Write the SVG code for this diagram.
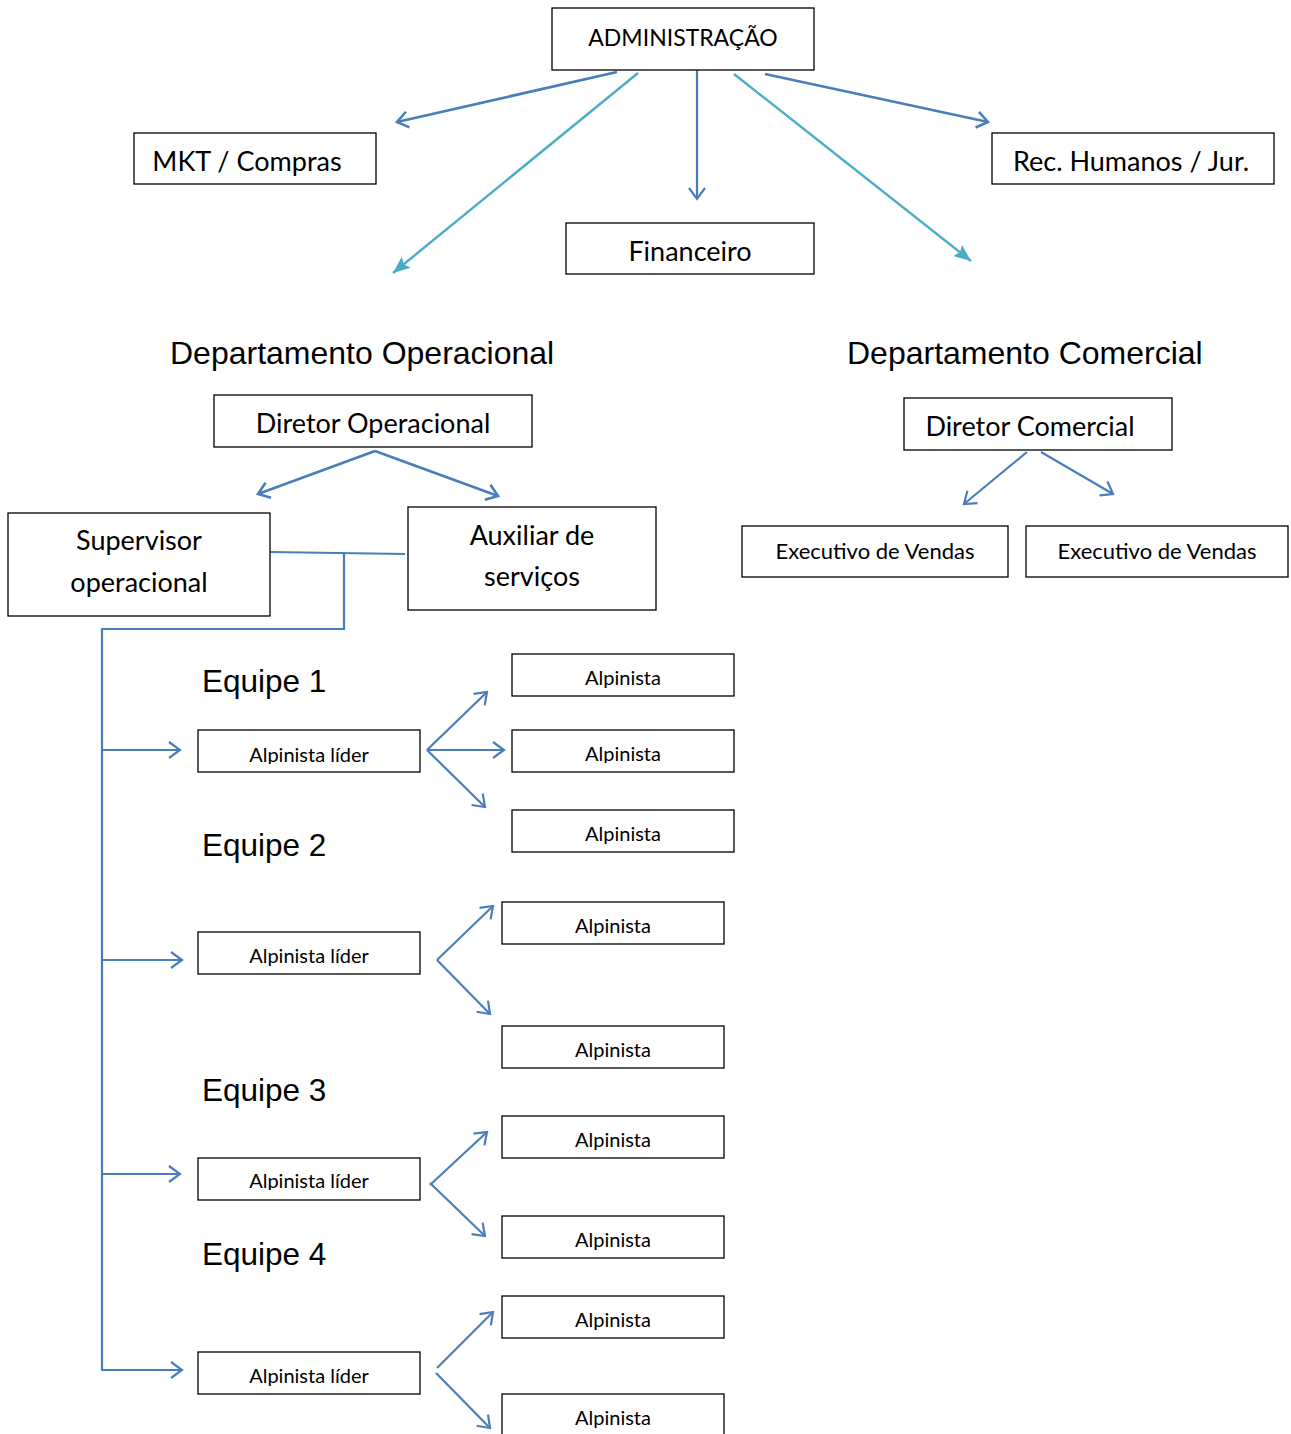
<svg xmlns="http://www.w3.org/2000/svg" width="1291" height="1434" viewBox="0 0 1291 1434">
<style>
.box{fill:#fff;stroke:#000;stroke-width:1.3}
.t{font-family:Lato,"Open Sans","Noto Sans",sans-serif;fill:#000;text-anchor:middle}
.m{font-size:27px}
.s{font-size:20px}
.h{font-family:"Liberation Sans",Arial,sans-serif;fill:#000;font-size:32px}
.e{font-family:"Liberation Sans",Arial,sans-serif;fill:#000;font-size:31.5px}
.b{stroke:#4A7EBB;stroke-width:2.2;fill:none}
.bt{stroke:#4A7EBB;stroke-width:2.8;fill:none}
.tl{stroke:#4BACC6;stroke-width:2.4;fill:none}
</style>
<defs>
<marker id="oa" markerUnits="userSpaceOnUse" markerWidth="30" markerHeight="30" refX="15" refY="15" orient="auto">
<polyline points="4,7 15,15 4,23" fill="none" stroke="#4A7EBB" stroke-width="2.2"/>
</marker>
<marker id="oat" markerUnits="userSpaceOnUse" markerWidth="30" markerHeight="30" refX="15" refY="15" orient="auto">
<polyline points="4,7 15,15 4,23" fill="none" stroke="#4A7EBB" stroke-width="2.6"/>
</marker>
<marker id="fa" markerUnits="userSpaceOnUse" markerWidth="34" markerHeight="34" refX="17" refY="17" orient="auto">
<polygon points="0,10 17,17 0,24 3,17" fill="#4BACC6"/>
</marker>
<clipPath id="c1"><rect x="198" y="730" width="222" height="34"/></clipPath>
<clipPath id="c3"><rect x="198" y="1158" width="222" height="32"/></clipPath>
<clipPath id="c1b"><rect x="512" y="730" width="222" height="33"/></clipPath>
</defs>
<rect width="1291" height="1434" fill="#fff"/>
<g id="connectors">
<line class="bt" x1="617" y1="72" x2="397" y2="122" marker-end="url(#oat)"/>
<line class="b" x1="697" y1="70" x2="697" y2="199" marker-end="url(#oa)"/>
<line class="bt" x1="765" y1="74" x2="988" y2="122" marker-end="url(#oat)"/>
<line class="tl" x1="638" y1="73" x2="393" y2="273" marker-end="url(#fa)"/>
<line class="tl" x1="734" y1="74" x2="971" y2="261" marker-end="url(#fa)"/>
<line class="bt" x1="375" y1="451" x2="258" y2="494" marker-end="url(#oat)"/>
<line class="bt" x1="375" y1="451" x2="498" y2="496" marker-end="url(#oat)"/>
<line class="b" x1="1027" y1="452" x2="964" y2="504" marker-end="url(#oa)"/>
<line class="b" x1="1041" y1="452" x2="1113" y2="494" marker-end="url(#oa)"/>
<polyline class="b" points="270,552 405,554"/>
<polyline class="b" points="344,552 344,629 102,629 102,1371"/>
<line class="b" x1="102" y1="750" x2="180" y2="750" marker-end="url(#oa)"/>
<line class="b" x1="102" y1="960" x2="182" y2="960" marker-end="url(#oa)"/>
<line class="b" x1="102" y1="1174" x2="180" y2="1174" marker-end="url(#oa)"/>
<line class="b" x1="102" y1="1370" x2="182" y2="1370" marker-end="url(#oa)"/>
<line class="b" x1="427" y1="750" x2="487" y2="692" marker-end="url(#oa)"/>
<line class="b" x1="427" y1="750" x2="504" y2="750" marker-end="url(#oa)"/>
<line class="b" x1="427" y1="750" x2="485" y2="807" marker-end="url(#oa)"/>
<line class="b" x1="437" y1="960" x2="493" y2="906" marker-end="url(#oa)"/>
<line class="b" x1="437" y1="960" x2="490" y2="1014" marker-end="url(#oa)"/>
<line class="b" x1="430" y1="1185" x2="487" y2="1132" marker-end="url(#oa)"/>
<line class="b" x1="430" y1="1183" x2="485" y2="1236" marker-end="url(#oa)"/>
<line class="b" x1="437" y1="1368" x2="493" y2="1312" marker-end="url(#oa)"/>
<line class="b" x1="436" y1="1373" x2="490" y2="1428" marker-end="url(#oa)"/>
</g>
<g id="admin"><rect class="box" x="552" y="8" width="262" height="62"/><text class="t" x="683" y="46" font-size="23">ADMINISTRAÇÃO</text></g>
<g id="mkt"><rect class="box" x="134" y="133" width="242" height="51"/><text class="t m" x="247" y="171">MKT / Compras</text></g>
<g id="rh"><rect class="box" x="992" y="133" width="282" height="51"/><text class="t m" x="1131" y="171">Rec. Humanos / Jur.</text></g>
<g id="fin"><rect class="box" x="566" y="223" width="248" height="51"/><text class="t m" x="690" y="261">Financeiro</text></g>
<g id="dep-op"><text class="h" x="170" y="364">Departamento Operacional</text></g>
<g id="dep-com"><text class="h" x="847" y="364">Departamento Comercial</text></g>
<g id="dir-op"><rect class="box" x="214" y="395" width="318" height="52"/><text class="t m" x="373" y="433">Diretor Operacional</text></g>
<g id="dir-com"><rect class="box" x="904" y="398" width="268" height="52"/><text class="t m" x="1030" y="436">Diretor Comercial</text></g>
<g id="sup"><rect class="box" x="8" y="513" width="262" height="103"/><text class="t m" x="139" y="550">Supervisor</text><text class="t m" x="139" y="592">operacional</text></g>
<g id="aux"><rect class="box" x="408" y="507" width="248" height="103"/><text class="t m" x="532" y="545">Auxiliar de</text><text class="t m" x="532" y="586">serviços</text></g>
<g id="exec1"><rect class="box" x="742" y="526" width="266" height="51"/><text class="t" x="875" y="559" font-size="22">Executivo de Vendas</text></g>
<g id="exec2"><rect class="box" x="1026" y="526" width="262" height="51"/><text class="t" x="1157" y="559" font-size="22">Executivo de Vendas</text></g>
<g id="eq1"><text class="e" x="202" y="692">Equipe 1</text></g>
<g id="eq2"><text class="e" x="202" y="856">Equipe 2</text></g>
<g id="eq3"><text class="e" x="202" y="1101">Equipe 3</text></g>
<g id="eq4"><text class="e" x="202" y="1265">Equipe 4</text></g>
<g id="lider1"><rect class="box" x="198" y="730" width="222" height="42"/><text class="t s" x="309" y="762" clip-path="url(#c1)">Alpinista líder</text></g>
<g id="lider2"><rect class="box" x="198" y="932" width="222" height="42"/><text class="t s" x="309" y="963">Alpinista líder</text></g>
<g id="lider3"><rect class="box" x="198" y="1158" width="222" height="42"/><text class="t s" x="309" y="1188" clip-path="url(#c3)">Alpinista líder</text></g>
<g id="lider4"><rect class="box" x="198" y="1352" width="222" height="42"/><text class="t s" x="309" y="1383">Alpinista líder</text></g>
<g id="a1a"><rect class="box" x="512" y="654" width="222" height="42"/><text class="t s" x="623" y="685">Alpinista</text></g>
<g id="a1b"><rect class="box" x="512" y="730" width="222" height="42"/><text class="t s" x="623" y="761" clip-path="url(#c1b)">Alpinista</text></g>
<g id="a1c"><rect class="box" x="512" y="810" width="222" height="42"/><text class="t s" x="623" y="841">Alpinista</text></g>
<g id="a2a"><rect class="box" x="502" y="902" width="222" height="42"/><text class="t s" x="613" y="933">Alpinista</text></g>
<g id="a2b"><rect class="box" x="502" y="1026" width="222" height="42"/><text class="t s" x="613" y="1057">Alpinista</text></g>
<g id="a3a"><rect class="box" x="502" y="1116" width="222" height="42"/><text class="t s" x="613" y="1147">Alpinista</text></g>
<g id="a3b"><rect class="box" x="502" y="1216" width="222" height="42"/><text class="t s" x="613" y="1247">Alpinista</text></g>
<g id="a4a"><rect class="box" x="502" y="1296" width="222" height="42"/><text class="t s" x="613" y="1327">Alpinista</text></g>
<g id="a4b"><rect class="box" x="502" y="1394" width="222" height="42"/><text class="t s" x="613" y="1425">Alpinista</text></g>
</svg>
